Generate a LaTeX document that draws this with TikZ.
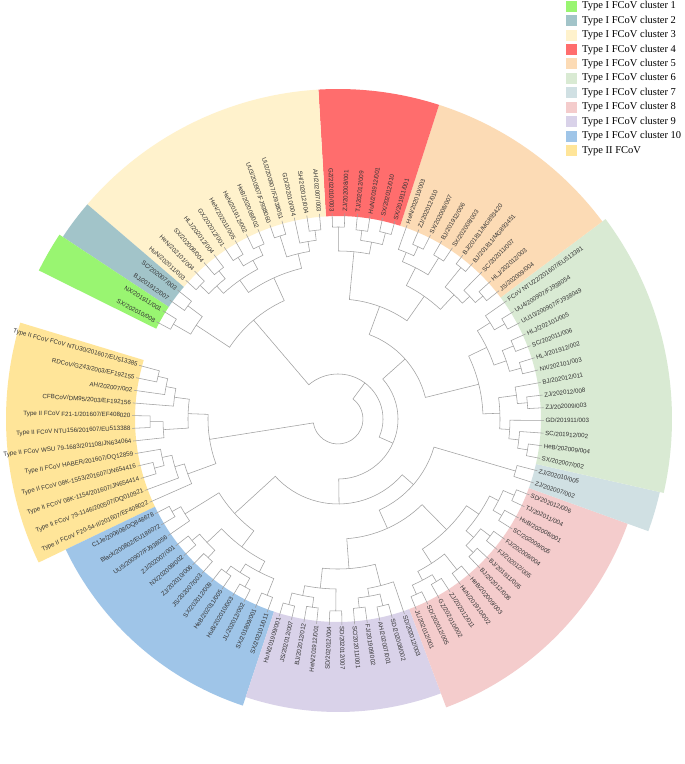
\documentclass[tikz,border=0pt]{standalone}
\usepackage{fontspec}
\setmainfont{Liberation Serif}
\newfontfamily\labfont{Liberation Sans}
\definecolor{cOne}{HTML}{99F571}
\definecolor{cTwo}{HTML}{A2C4C9}
\definecolor{cThree}{HTML}{FFF2CC}
\definecolor{cFour}{HTML}{FF6D6D}
\definecolor{cFive}{HTML}{FCDBB5}
\definecolor{cSix}{HTML}{D9EAD3}
\definecolor{cSeven}{HTML}{D0E0E3}
\definecolor{cEight}{HTML}{F4CCCC}
\definecolor{cNine}{HTML}{D9D2E9}
\definecolor{cTen}{HTML}{9FC5E8}
\definecolor{cTypeII}{HTML}{FFE599}
\definecolor{treegray}{HTML}{A0A0A0}
\definecolor{labgray}{HTML}{333333}
\tikzset{
  branch/.style={draw=treegray, line width=0.55pt},
  leaflab/.style={font=\labfont\fontsize{6.2}{7}\selectfont, text=labgray, inner sep=0pt},
  legbox/.style={minimum size=11pt, inner sep=0pt},
  legtext/.style={font=\fontsize{10.5}{12}\selectfont, anchor=west, inner sep=0pt}
}
% leaf angle: start angle and step
\newcommand{\aO}{164.9}
\newcommand{\dA}{3.54}
% branch pair: parent radius, pos1, r1, pos2, r2
\newcommand{\br}[5]{%
  \draw[branch] ({\aO+#2*\dA}:#3) -- ({\aO+#2*\dA}:#1)
    arc[start angle={\aO+#2*\dA}, end angle={\aO+#4*\dA}, radius=#1]
    -- ({\aO+#4*\dA}:#5);}
% coloured sector: colour, first leaf, last leaf, outer radius
\newcommand{\sect}[4]{%
  \fill[#1] ({\aO+(#2-0.5)*\dA}:203)
    arc[start angle={\aO+(#2-0.5)*\dA}, end angle={\aO+(#3+0.5)*\dA}, radius=203]
    -- ({\aO+(#3+0.5)*\dA}:#4)
    arc[start angle={\aO+(#3+0.5)*\dA}, end angle={\aO+(#2-0.5)*\dA}, radius=#4] -- cycle;}

\begin{document}
\begin{tikzpicture}[x=1pt,y=1pt]
\useasboundingbox[fill=white] (0,0) rectangle (685,764);

\begin{scope}[shift={(338,345)}]
  % sectors
  \sect{cTypeII}{0}{11}{332}
  \sect{cTen}{12}{24}{302}
  \sect{cNine}{25}{35}{293}
  \sect{cEight}{36}{49}{308}
  \sect{cSeven}{50}{51}{330}
  \sect{cSix}{52}{65}{334}
  \sect{cFive}{66}{75}{330}
  \sect{cFour}{76}{81}{330}
  \sect{cThree}{82}{94}{330}
  \sect{cTwo}{95}{96}{330}
  \sect{cOne}{97}{98}{334}

  % Type II
  \br{185}{0}{206}{1}{206}
  \br{175}{0.5}{185}{2}{206}
  \br{165}{1.25}{175}{3}{206}
  \br{188}{4}{206}{5}{206}
  \br{175}{4.5}{188}{6}{206}
  \br{190}{8}{206}{9}{206}
  \br{180}{7}{206}{8.5}{190}
  \br{170}{7.75}{180}{10}{206}
  \br{160}{8.875}{170}{11}{206}
  \br{150}{2.125}{165}{5.25}{175}
  \br{130}{3.6875}{150}{9.9375}{160}
  % cluster 10
  \br{190}{12}{206}{13}{206}
  \br{180}{12.5}{190}{14}{206}
  \br{190}{15}{206}{16}{206}
  \br{190}{17}{206}{18}{206}
  \br{180}{15.5}{190}{17.5}{190}
  \br{190}{19}{206}{20}{206}
  \br{192}{21}{206}{22}{206}
  \br{182}{19.5}{190}{21.5}{192}
  \br{190}{23}{206}{24}{206}
  \br{172}{20.5}{182}{23.5}{190}
  \br{160}{16.5}{180}{22}{172}
  \br{140}{13.25}{180}{19.25}{160}
  % cluster 9
  \br{192}{25}{206}{26}{206}
  \br{190}{27}{206}{28}{206}
  \br{180}{25.5}{192}{27.5}{190}
  \br{192}{29}{206}{30}{206}
  \br{170}{26.5}{180}{29.5}{192}
  \br{190}{31}{206}{32}{206}
  \br{192}{33}{206}{34}{206}
  \br{180}{31.5}{190}{33.5}{192}
  \br{172}{32.5}{180}{35}{206}
  \br{150}{28}{170}{33.75}{172}
  % cluster 8
  \br{192}{36}{206}{37}{206}
  \br{190}{38}{206}{39}{206}
  \br{182}{36.5}{192}{38.5}{190}
  \br{192}{40}{206}{41}{206}
  \br{172}{37.5}{182}{40.5}{192}
  \br{190}{42}{206}{43}{206}
  \br{192}{44}{206}{45}{206}
  \br{180}{42.5}{190}{44.5}{192}
  \br{190}{46}{206}{47}{206}
  \br{192}{48}{206}{49}{206}
  \br{180}{46.5}{190}{48.5}{192}
  \br{170}{43.5}{180}{47.5}{180}
  \br{155}{39}{172}{45.5}{170}
  % cluster 7
  \br{185}{50}{206}{51}{206}
  % cluster 6
  \br{192}{52}{206}{53}{206}
  \br{182}{52.5}{192}{54}{206}
  \br{172}{53.25}{182}{55}{206}
  \br{190}{56}{206}{57}{206}
  \br{180}{56.5}{190}{58}{206}
  \br{162}{54.125}{172}{57.25}{180}
  \br{190}{59}{206}{60}{206}
  \br{190}{61}{206}{62}{206}
  \br{178}{59.5}{190}{61.5}{190}
  \br{192}{63}{206}{64}{206}
  \br{180}{63.5}{192}{65}{206}
  \br{165}{60.5}{178}{64.25}{180}
  \br{145}{55.6875}{162}{62.375}{165}
  % cluster 5
  \br{190}{66}{206}{67}{206}
  \br{180}{66.5}{190}{68}{206}
  \br{195}{69}{206}{70}{206}
  \br{170}{67.25}{180}{69.5}{195}
  \br{190}{71}{206}{72}{206}
  \br{190}{73}{206}{74}{206}
  \br{180}{73.5}{190}{75}{206}
  \br{170}{71.5}{190}{74.25}{180}
  \br{150}{68.375}{170}{72.875}{170}
  % cluster 4
  \br{192}{76}{206}{77}{206}
  \br{190}{78}{206}{79}{206}
  \br{180}{76.5}{192}{78.5}{190}
  \br{192}{80}{206}{81}{206}
  \br{168}{77.5}{180}{80.5}{192}
  \br{120}{70.625}{150}{79}{168}
  % cluster 3
  \br{190}{82}{206}{83}{206}
  \br{180}{82.5}{190}{84}{206}
  \br{192}{85}{206}{86}{206}
  \br{170}{83.25}{180}{85.5}{192}
  \br{190}{87}{206}{88}{206}
  \br{190}{89}{206}{90}{206}
  \br{180}{87.5}{190}{89.5}{190}
  \br{190}{91}{206}{92}{206}
  \br{192}{93}{206}{94}{206}
  \br{180}{91.5}{190}{93.5}{192}
  \br{170}{88.5}{180}{92.5}{180}
  \br{155}{84.375}{170}{90.5}{170}
  % clusters 2 and 1
  \br{188}{95}{206}{96}{206}
  \br{190}{97}{206}{98}{206}
  \br{170}{95.5}{188}{97.5}{190}
  \br{130}{87.4375}{155}{96.5}{170}
  % backbone
  \br{120}{30.875}{150}{42.25}{155}
  \br{100}{36.5625}{120}{50.5}{185}
  \br{85}{16.25}{140}{43.53}{100}
  \br{90}{59.03}{145}{74.81}{120}
  \br{60}{29.89}{85}{66.92}{90}
  \br{45}{48.405}{60}{91.97}{130}
  \br{25}{6.8125}{130}{70.19}{45}

  % leaf labels
  \foreach \nm [count=\i from 0] in {
    Type II FCoV FCoV NTU30/201607/EU513385, RDCoV/GZ43/2003/EF192155,
    AH/202007/002, CFBCoV/DM95/2003/EF192156,
    Type II FCoV F21-1/201607/EF408020, Type II FCoV NTU156/201607/EU513388,
    Type II FCoV WSU 79-1683/201108/JN634064, Type II FCoV HABER/201607/DQ12859,
    Type II FCoV 08K-1553/201607/JN654416, Type II FCoV 08K-1154/201607/JN654414,
    Type II FCoV 79-1146/200507/DQ010921, Type II FCoV F20-54-II/201607/EF408022,
    C1Je/200608/DQ848678, Black/200802/EU186072, UU5/200907/FJ938056,
    ZJ/202007/001, NX/202008/002, ZJ/202010/006, JS/202007/003,
    SX/202012/009, HeB/202011/005, HuB/202010/003, JL/202012/002,
    SX/201809/001, SX/202101/011,
    HuN/201909/001, JS/202012/007, BJ/202012/012, HeN/201912/001,
    SD/202012/004, SD/202012/007, SC/202011/001, FJ/201909/002,
    AH/202007/001, SD/202008/002, SD/202012/003,
    JL/202012/001, SD/202012/005, GZ/202010/002, ZJ/202012/011,
    HuN/201910/002, HeB/202009/003, BJ/202012/008, BJ/201911/005,
    FJ/202012/005, FJ/202009/004, SC/202009/005, HuB/202008/001,
    TJ/202011/004, SD/202012/006,
    ZJ/202007/002, ZJ/202010/005,
    SX/202007/002, HeB/202009/004, SC/201912/002, GD/201911/003,
    ZJ/202009/003, ZJ/202012/008, BJ/202012/011, NX/202101/003,
    HLJ/201912/002, SC/202011/006, HLJ/202101/005, UU10/200907/FJ938049,
    UU4/200907/FJ938054, FCoV NTU22/201607/EU513381,
    JS/202009/004, HLJ/202012/003, SC/202011/007, BJ/201811/MG893451,
    BJ/201811/MG893420, SX/202008/003, BJ/201912/006, SX/202008/007,
    ZJ/202012/010, HeN/202010/003,
    SX/201911/001, SX/202012/010, HuN/201912/001, TJ/202012/009,
    ZJ/202008/001, GZ/202010/003,
    AH/202007/003, SH/202012/004, GD/202010/004, UU2/200907/FJ938051,
    UU3/200907/FJ938060, HeB/202008/002, HeN/201912/002, HeN/202011/005,
    GX/202012/001, HLJ/202012/004, SX/202008/004, HeN/202101/004,
    HuN/202011/003,
    SC/202007/003, BJ/201912/007,
    NX/201911/001, SX/202010/008}{
    \pgfmathsetmacro\ang{mod(\aO+(\i)*\dA,360)}
    \pgfmathtruncatemacro\flip{(\ang>90)&&(\ang<270)}
    \ifnum\flip=1
      \node[leaflab, anchor=east, rotate=\ang-180] (l\i) at (\ang:207.5) {\nm};
    \else
      \node[leaflab, anchor=west, rotate=\ang] (l\i) at (\ang:207.5) {\nm};
    \fi
  }
\end{scope}

% legend
\foreach \c/\t [count=\k from 0] in {cOne/Type I FCoV cluster 1, cTwo/Type I FCoV cluster 2,
    cThree/Type I FCoV cluster 3, cFour/Type I FCoV cluster 4, cFive/Type I FCoV cluster 5,
    cSix/Type I FCoV cluster 6, cSeven/Type I FCoV cluster 7, cEight/Type I FCoV cluster 8,
    cNine/Type I FCoV cluster 9, cTen/Type I FCoV cluster 10, cTypeII/Type II FCoV}{
  \node[legbox, fill=\c] (box\k) at (571,{757.8-14.45*\k}) {};
  \node[legtext] (leg\k) at (582,{757.8-14.45*\k}) {\t};
}
\end{tikzpicture}
\end{document}
